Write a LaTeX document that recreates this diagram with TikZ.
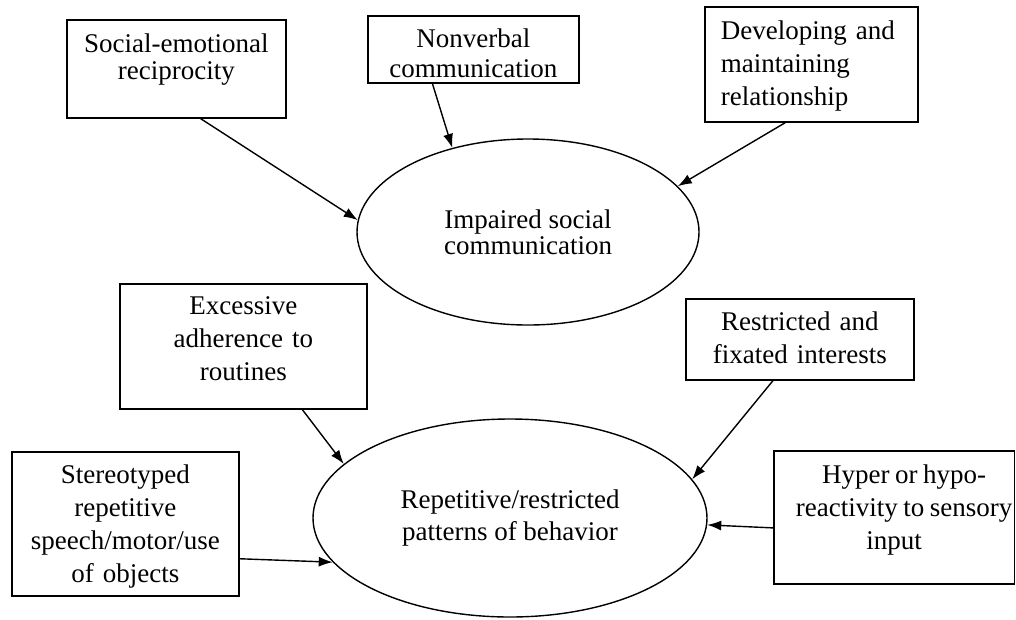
\documentclass[tikz,border=0pt]{standalone}
\usepackage{fontspec}
\setmainfont{Liberation Serif}
\usetikzlibrary{arrows.meta,shapes.geometric}

\begin{document}
\begin{tikzpicture}[x=1pt,y=-1pt,->,>={Latex[length=14pt,width=10pt]},line width=1.4pt,
    textbox/.style={rectangle, draw=black, line width=1.6pt, inner sep=0pt, align=center,
                    anchor=north west, text height=32pt},
    ovalnode/.style={ellipse, draw=black, line width=1.4pt, align=center}]
  \tikzstyle{every node}=[font=\fontsize{27}{33}\selectfont]
  \useasboundingbox (0,0) rectangle (1016,619);

  % the two ovals
  \node[ovalnode, minimum width=342pt, minimum height=186pt, font=\fontsize{27}{26}\selectfont]
        (imp) at (528,232) {Impaired social\\communication};
  \node[ovalnode, minimum width=394pt, minimum height=198pt, font=\fontsize{27}{32}\selectfont]
        (rep) at (510,518) {Repetitive/restricted\\patterns of behavior};

  % boxes round the upper oval
  \node[textbox, text width=219pt, text height=33pt, text depth=65pt, font=\fontsize{27}{27}\selectfont]
        (soc) at (66,19) {Social-emotional\\reciprocity};
  \node[textbox, text width=211pt, text depth=35pt, font=\fontsize{27}{30}\selectfont]
        (nonv) at (367,15) {Nonverbal\\communication};
  \node[textbox, align=left, inner xsep=16pt, text width=181pt, text height=33pt, text depth=82pt]
        (dev) at (704,6) {Developing and\\maintaining\\relationship};

  % boxes round the lower oval
  \node[textbox, text width=247pt, text height=31pt, text depth=94pt]
        (exc) at (119,283) {Excessive\\adherence to\\routines};
  \node[textbox, text width=228pt, text depth=49pt]
        (res) at (685,298) {Restricted and\\fixated interests};
  \node[textbox, text width=240.5pt, text height=33pt, text depth=100pt]
        (hyp) at (773,450) {\leftskip=20pt plus 1fil\rightskip=0pt plus 1fil\parfillskip=0pt
        \spaceskip=5.5pt\relax
        \mbox{Hyper or hypo-}\\\mbox{reactivity to sensory}\\\mbox{input}};
  \node[textbox, text width=227pt, text depth=112pt]
        (ster) at (11,451) {Stereotyped\\repetitive\\speech/motor/use\\of objects};

  \path (soc.-64)  edge (imp.176)
        (nonv.-140) edge (imp.132)
        (dev.-114) edge (imp.17)
        (exc.-47)  edge (rep.162)
        (ster.-17) edge (rep.194)
        (res.-123) edge (rep.12)
        (hyp.185)  edge (rep.-2);
\end{tikzpicture}
\end{document}
